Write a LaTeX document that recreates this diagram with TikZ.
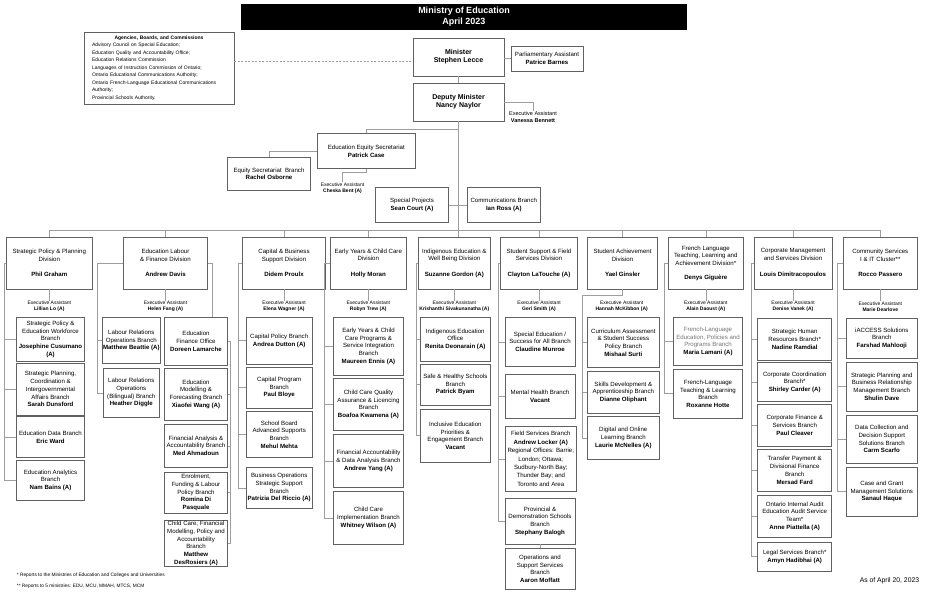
\documentclass[tikz,border=0pt]{standalone}
\usepackage{fontspec}
\setmainfont{Liberation Sans}
\definecolor{boxgray}{gray}{0.38}
\definecolor{linkgray}{gray}{0.62}
\definecolor{softtext}{gray}{0.45}

\tikzset{
  box/.style={draw=boxgray,line width=0.8pt,align=center,inner sep=1pt,font=\fontsize{6.1}{7.7}\selectfont},
  wh/.style 2 args={minimum width=#1,minimum height=#2},
  title/.style={fill=black,text=white,align=center,font=\bfseries\fontsize{9}{11}\selectfont},
  boss/.style={font=\bfseries\fontsize{7}{8}\selectfont},
  ea/.style={align=center,inner sep=0.5pt,font=\fontsize{5}{6}\selectfont},
  link/.style={draw=linkgray,line width=0.6pt},
  note/.style={inner sep=0pt,font=\fontsize{4.8}{6}\selectfont}
}

\begin{document}
\begin{tikzpicture}[x=1pt,y=-1pt]
      \useasboundingbox (0,0) rectangle (927,597);

      \node [title,wh={446}{24}] (title) at (464,17) {Ministry of Education\\April 2023};
      \node [box,wh={150}{72},align=left,text width=134pt,inner xsep=8pt,inner ysep=2pt,font=\fontsize{5}{7.5}\selectfont] (agencies) at (159,68)
        {{\centering\bfseries Agencies, Boards, and Commissions\par}
         Advisory Council on Special Education;\\Education Quality and Accountability Office;\\Education Relations Commission\\
         Languages of Instruction Commission of Ontario;\\Ontario Educational Communications Authority;\\
         Ontario French-Language Educational Communications\\Authority;\\Provincial Schools Authority.};
      \node [box,boss,wh={91}{38}] (minister) at (458.5,57) {Minister\\Stephen Lecce};
      \node [box,wh={72}{25}] (pa) at (547,58.5) {Parliamentary Assistant\\\textbf{Patrice Barnes}};
      \node [box,boss,wh={91}{38}] (dm) at (458.5,102) {Deputy Minister\\Nancy Naylor};
      \node [ea,font=\fontsize{5.5}{6.5}\selectfont] (ea0) at (533,117) {Executive Assistant\\\textbf{Vanessa Bennett}};
      \node [box,wh={98}{34.6}] (ees) at (366.3,151) {Education Equity Secretariat\\\textbf{Patrick Case}};
      \node [box,wh={82.6}{33.3}] (esb) at (269,173.7) {Equity Secretariat\ \ Branch\\\textbf{Rachel Osborne}};
      \node [ea] (ea00) at (342.5,188.5) {Executive Assistant\\\textbf{Cheska Bent (A)}};
      \node [box,wh={72.6}{35}] (sproj) at (412,204.8) {Special Projects\\\textbf{Sean Court (A)}};
      \node [box,wh={73}{34.5}] (comm) at (503.8,204.8) {Communications Branch\\\textbf{Ian Ross (A)}};

      \node [box,wh={86}{52}] (d1) at (49.3,263) {Strategic Policy \& Planning\\Division\\[7.7pt]\textbf{Phil Graham}};
      \node [box,wh={83.6}{52}] (d2) at (165.5,263) {Education Labour\\\& Finance Division\\[7.7pt]\textbf{Andrew Davis}};
      \node [box,wh={83.4}{52}] (d3) at (284,263) {Capital \& Business\\Support Division\\[7.7pt]\textbf{Didem Proulx}};
      \node [box,wh={76.7}{52}] (d4) at (368.3,263) {Early Years \& Child Care\\Division\\[7.7pt]\textbf{Holly Moran}};
      \node [box,wh={72}{52}] (d5) at (454.3,263) {Indigenous Education \&\\Well Being Division\\[7.7pt]\textbf{Suzanne Gordon (A)}};
      \node [box,wh={77.4}{52}] (d6) at (539,263) {Student Support \& Field\\Services Division\\[7.7pt]\textbf{Clayton LaTouche (A)}};
      \node [box,wh={70.4}{52}] (d7) at (622.5,263) {Student Achievement\\Division\\[7.7pt]\textbf{Yael Ginsler}};
      \node [box,wh={75.7}{52}] (d8) at (705.8,263) {French Language\\Teaching, Learning and\\Achievement Division*\\[6pt]\textbf{Denys Giguère}};
      \node [box,wh={78}{52}] (d9) at (793,263) {Corporate Management\\and Services Division\\[7.7pt]\textbf{Louis Dimitracopoulos}};
      \node [box,wh={73.3}{52}] (d10) at (880.3,263) {Community Services\\I \& IT Cluster**\\[7.7pt]\textbf{Rocco Passero}};

      \node [ea] (ea1) at (49.3,306.7) {Executive Assistant\\\textbf{Lillian Lo (A)}};
      \node [ea] (ea2) at (165.5,306.7) {Executive Assistant\\\textbf{Helen Fang (A)}};
      \node [ea] (ea3) at (284,306.7) {Executive Assistant\\\textbf{Elena Wagner (A)}};
      \node [ea] (ea4) at (368.3,306.7) {Executive Assistant\\\textbf{Robyn Trew (A)}};
      \node [ea] (ea5) at (454.3,306.7) {Executive Assistant\\\textbf{Krishanthi Sivakunanatha (A)}};
      \node [ea] (ea6) at (539,306.7) {Executive Assistant\\\textbf{Geri Smith (A)}};
      \node [ea] (ea7) at (621.7,306.7) {Executive Assistant\\\textbf{Hannah McKibbon (A)}};
      \node [ea] (ea8) at (705.8,306.7) {Executive Assistant\\\textbf{Alain Daoust (A)}};
      \node [ea] (ea9) at (793,306.7) {Executive Assistant\\\textbf{Denise Vanek (A)}};
      \node [ea] (ea10) at (880.3,306.7) {Executive Assistant\\\textbf{Marie Dearlove}};

      \node [box,wh={68.4}{44.7}] (b11) at (50.5,339.3) {Strategic Policy \&\\Education Workforce\\Branch\\\textbf{Josephine Cusumano}\\\textbf{(A)}};
      \node [box,wh={68.4}{51.7}] (b12) at (50.5,389.2) {Strategic Planning,\\Coordination \&\\Intergovernmental\\Affairs Branch\\\textbf{Sarah Dunsford}};
      \node [box,wh={68.4}{40.6}] (b13) at (50.5,437) {Education Data Branch\\\textbf{Eric Ward}};
      \node [box,wh={68.4}{39.7}] (b14) at (50.5,480.2) {Education Analytics\\Branch\\\textbf{Nam Bains (A)}};

      \node [box,wh={56}{46.4}] (b21) at (131.3,340.5) {Labour Relations\\Operations Branch\\\textbf{Matthew Beattie (A)}};
      \node [box,wh={56}{49}] (b22) at (131.3,392.8) {Labour Relations\\Operations\\(Bilingual) Branch\\\textbf{Heather Diggle}};
      \node [box,wh={63.4}{47.7}] (efo) at (196,341.2) {Education\\Finance Office\\\textbf{Doreen Lamarche}};
      \node [box,wh={63.4}{51.7}] (b23) at (196,394.2) {Education\\Modelling \&\\Forecasting Branch\\\textbf{Xiaofei Wang (A)}};
      \node [box,wh={63.4}{43}] (b24) at (196,445.8) {Financial Analysis \&\\Accountability Branch\\\textbf{Med Ahmadoun}};
      \node [box,wh={63.4}{41.3}] (b25) at (196,492.7) {Enrolment,\\Funding \& Labour\\Policy Branch\\\textbf{Romina Di}\\\textbf{Pasquale}};
      \node [box,wh={63.4}{46}] (b26) at (196,543.3) {Child Care, Financial\\Modelling, Policy and\\Accountability\\Branch\\\textbf{Matthew}\\\textbf{DesRosiers (A)}};

      \node [box,wh={66.3}{46.7}] (b31) at (279.2,340.7) {Capital Policy Branch\\\textbf{Andrea Dutton (A)}};
      \node [box,wh={66.3}{40.7}] (b32) at (279.2,387.7) {Capital Program\\Branch\\\textbf{Paul Bloye}};
      \node [box,wh={66.3}{45.6}] (b33) at (279.2,434.5) {School Board\\Advanced Supports\\Branch\\\textbf{Mehul Mehta}};
      \node [box,wh={66.3}{41}] (b34) at (279.2,487.8) {Business Operations\\Strategic Support\\Branch\\\textbf{Patrizia Del Riccio (A)}};

      \node [box,wh={70.4}{58.7}] (b41) at (368.5,346.3) {Early Years \& Child\\Care Programs \&\\Service Integration\\Branch\\\textbf{Maureen Ennis (A)}};
      \node [box,wh={70.4}{52.4}] (b42) at (368.5,404.5) {Child Care Quality\\Assurance \& Licencing\\Branch\\\textbf{Boafoa Kwamena (A)}};
      \node [box,wh={70.4}{53.7}] (b43) at (368.5,460.8) {Financial Accountability\\\& Data Analysis Branch\\\textbf{Andrew Yang (A)}};
      \node [box,wh={70.4}{53.7}] (b44) at (368.5,517.8) {Child Care\\Implementation Branch\\\textbf{Whitney Wilson (A)}};

      \node [box,wh={70}{44}] (b51) at (455.3,339.3) {Indigenous Education\\Office\\\textbf{Renita Deonarain (A)}};
      \node [box,wh={70}{40.7}] (b52) at (455.3,384.7) {Safe \& Healthy Schools\\Branch\\\textbf{Patrick Byam}};
      \node [box,wh={70}{52.7}] (b53) at (455.3,435.7) {Inclusive Education\\Priorities \&\\Engagement Branch\\\textbf{Vacant}};

      \node [box,wh={70}{49.7}] (b61) at (540,341.8) {Special Education /\\Success for All Branch\\\textbf{Claudine Munroe}};
      \node [box,wh={70}{44}] (b62) at (540,396) {Mental Health Branch\\\textbf{Vacant}};
      \node [box,wh={71}{64.6},font=\fontsize{6.1}{8.4}\selectfont] (b63) at (540.8,459) {Field Services Branch\\\textbf{Andrew Locker (A)}\\Regional Offices: Barrie;\\London; Ottawa;\\Sudbury-North Bay;\\Thunder Bay; and\\Toronto and Area};
      \node [box,wh={70}{45.7}] (b64) at (540,521.2) {Provincial \&\\Demonstration Schools\\Branch\\\textbf{Stephany Balogh}};
      \node [box,wh={70}{41.3}] (b65) at (540,568.7) {Operations and\\Support Services\\Branch\\\textbf{Aaron Moffatt}};

      \node [box,wh={72}{50.4}] (b71) at (623.3,342.5) {Curriculum Assessment\\\& Student Success\\Policy Branch\\\textbf{Mishaal Surti}};
      \node [box,wh={72}{42}] (b72) at (623.3,392.3) {Skills Development \&\\Apprenticeship Branch\\\textbf{Dianne Oliphant}};
      \node [box,wh={72}{42.6}] (b73) at (623.3,438) {Digital and Online\\Learning Branch\\\textbf{Laurie McNelles (A)}};

      \node [box,wh={69.4}{48.4},text=softtext] (b81) at (708,341.5) {French-Language\\Education, Policies and\\Programs Branch\\\textbf{\color{black}Maria Lamani (A)}};
      \node [box,wh={69.4}{49.3}] (b82) at (708,393.7) {French-Language\\Teaching \& Learning\\Branch\\\textbf{Roxanne Hotte}};

      \node [box,wh={74}{41.7}] (b91) at (794.7,339.2) {Strategic Human\\Resources Branch*\\\textbf{Nadine Ramdial}};
      \node [box,wh={74}{39}] (b92) at (794.7,382.2) {Corporate Coordination\\Branch*\\\textbf{Shirley Carder (A)}};
      \node [box,wh={74}{41.7}] (b93) at (794.7,425.2) {Corporate Finance \&\\Services Branch\\\textbf{Paul Cleaver}};
      \node [box,wh={74}{42}] (b94) at (794.7,470.3) {Transfer Payment \&\\Divisional Finance\\Branch\\\textbf{Mersad Fard}};
      \node [box,wh={74}{41.7}] (b95) at (794.7,516.2) {Ontario Internal Audit\\Education Audit Service\\Team*\\\textbf{Anne Piattella (A)}};
      \node [box,wh={74}{28.7}] (b96) at (794.7,556.7) {Legal Services Branch*\\\textbf{Amyn Hadibhai (A)}};

      \node [box,wh={71}{40.3}] (b101) at (881.8,338.2) {iACCESS Solutions\\Branch\\\textbf{Farshad Mahlooji}};
      \node [box,wh={71}{49}] (b102) at (881.8,386.5) {Strategic Planning and\\Business Relationship\\Management Branch\\\textbf{Shulin Dave}};
      \node [box,wh={71}{48.3}] (b103) at (881.8,439.2) {Data Collection and\\Decision Support\\Solutions Branch\\\textbf{Carm Scarfo}};
      \node [box,wh={71}{48.7}] (b104) at (881.8,491.7) {Case and Grant\\Management Solutions\\\textbf{Sanaul Haque}};

      \node [note,anchor=west] (fn1) at (16.7,575.7) {* Reports to the Ministries of Education and Colleges and Universities};
      \node [note,anchor=west] (fn2) at (16.7,586.7) {** Reports to 5 ministries: EDU, MCU, MMAH, MTCS, MCM};
      \node [note,anchor=east,font=\fontsize{6.8}{8}\selectfont] (asof) at (919.3,580.3) {As of April 20, 2023};

      \coordinate (busE) at (0,129);
      \coordinate (bus) at (0,230);
      \coordinate (sp1) at (4.3,0);
      \coordinate (sp2) at (97.3,0);
      \coordinate (r2) at (212.7,0);
      \coordinate (sq2) at (230,0);
      \coordinate (sp3) at (238.7,0);
      \coordinate (sp4) at (324.7,0);
      \coordinate (sp5) at (416,0);
      \coordinate (sp6) at (498.7,0);
      \coordinate (sp7) at (582.7,0);
      \coordinate (j7) at (622.5,295.3);
      \coordinate (sp8) at (664.3,0);
      \coordinate (sp9) at (751.3,0);
      \coordinate (sp10) at (837.3,0);

      \draw [link,dash pattern=on 2pt off 1.5pt] (agencies.5) -- (agencies.5 -| minister.west);
      \draw [link] (minister.east |- pa.west) -- (pa.west);
      \draw [link] (minister) -- (dm);
      \draw [link] (dm.east) -| (ea0.north);
      \draw [link] (dm.south) -- (dm.south |- d5.north);
      \draw [link] (dm.south |- busE) -| (ees.north);
      \draw [link] (ees.west) -| (esb.north);
      \draw [link] (ees.south) -- ++(0,4) -| (ea00.north);
      \draw [link] (sproj) -- (comm);

      \draw [link] (d1.north |- bus) -- (d10.north |- bus);
      \foreach \d in {d1,d2,d3,d4,d6,d7,d8,d9,d10}
        \draw [link] (\d.north) -- (\d.north |- bus);
      \foreach \d/\e in {d1/ea1,d2/ea2,d3/ea3,d4/ea4,d5/ea5,d6/ea6,d8/ea8,d9/ea9,d10/ea10}
        \draw [link] (\d.south) -- (\e.north);

      \foreach \d/\s/\bl in {d1/sp1/{b11,b12,b13,b14},d2/sp2/{b21,b22},d3/sp3/{b31,b32,b33,b34},
          d4/sp4/{b41,b42,b43,b44},d5/sp5/{b51,b52,b53},d6/sp6/{b61,b62,b63,b64},
          d8/sp8/{b81,b82},d9/sp9/{b91,b92,b93,b94,b95,b96},d10/sp10/{b101,b102,b103,b104}}
        \foreach \b in \bl
          \draw [link] (\d.west) -- (\d.west -| \s) |- (\b.west);
      \foreach \b in {b71,b72,b73}
        \draw [link] (d7.south) -- (j7) -- (j7 -| sp7) |- (\b.west);
      \draw [link] (d2.east) -- (d2.east -| r2) -- (r2 |- efo.north);
      \foreach \b in {b23,b24,b25,b26}
        \draw [link] (efo.east) -- (efo.east -| sq2) |- (\b.east);
      \draw [link] (b64) -- (b65);
    \end{tikzpicture}
\end{document}
